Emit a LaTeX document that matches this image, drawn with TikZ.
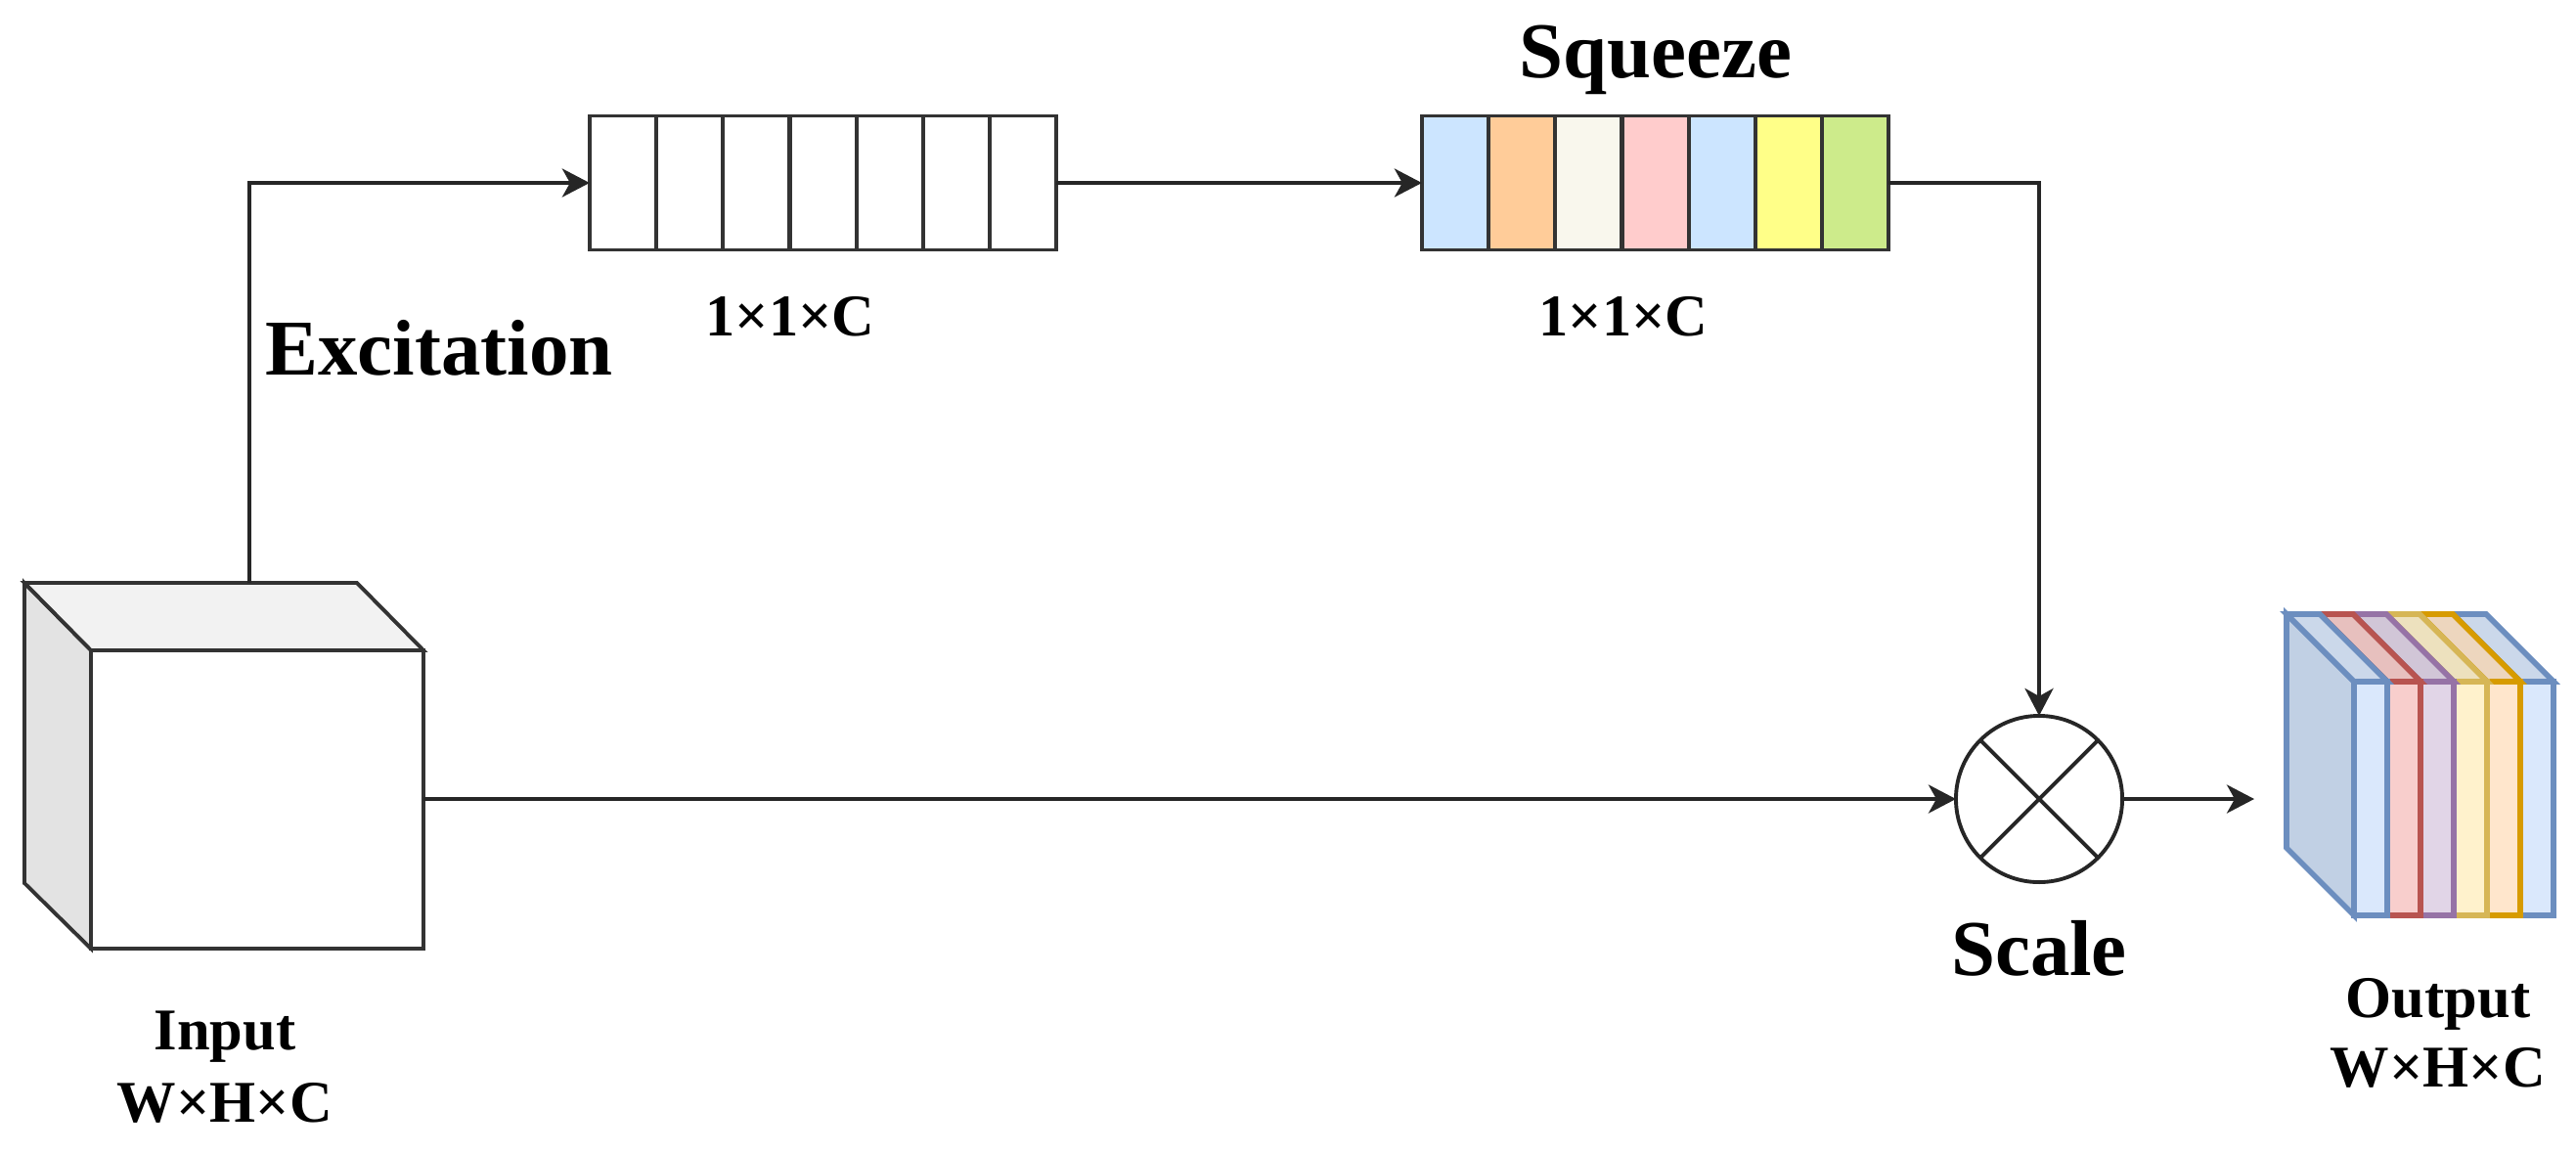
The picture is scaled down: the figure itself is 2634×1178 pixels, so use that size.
\documentclass[tikz,border=0pt]{standalone}
\usepackage{fontspec}
\setmainfont{Liberation Serif}
\usetikzlibrary{positioning,arrows.meta}
\definecolor{linegray}{HTML}{333333}
\definecolor{cellblue}{HTML}{CCE5FF}
\definecolor{cellorange}{HTML}{FFCC99}
\definecolor{cellcream}{HTML}{F9F7ED}
\definecolor{cellpink}{HTML}{FFCCCC}
\definecolor{cellyellow}{HTML}{FFFF88}
\definecolor{cellgreen}{HTML}{CDEB8B}
\definecolor{sliceblue}{HTML}{6C8EBF}
\definecolor{slicered}{HTML}{B85450}
\definecolor{slicepurple}{HTML}{9673A6}
\definecolor{sliceyellow}{HTML}{D6B656}
\definecolor{sliceorange}{HTML}{D79B00}
\definecolor{fillblue}{HTML}{DAE8FC}
\definecolor{fillred}{HTML}{F8CECC}
\definecolor{fillpurple}{HTML}{E1D5E7}
\definecolor{fillyellow}{HTML}{FFF2CC}
\definecolor{fillorange}{HTML}{FFE6CC}
\tikzset{
  cell/.style={draw=linegray,line width=1.1pt,minimum width=0.682cm,minimum height=1.37cm,inner sep=0pt,outer sep=0pt},
  link/.style={draw=black!85,line width=1.1pt,-{Stealth[length=0.28cm,width=0.29cm,inset=0.08cm]}},
  bigtext/.style={font=\bfseries\fontsize{23}{27}\selectfont,anchor=base},
  smalltext/.style={font=\bfseries\fontsize{17.2}{20}\selectfont,anchor=base},
  slicefront/.style={line width=1.6pt,minimum width=0.34cm,minimum height=2.39cm,inner sep=0pt,outer sep=0pt},
  slicetop/.style={line width=1.6pt,line join=miter}
}
\begin{document}
\begin{tikzpicture}[x=0.01cm,y=-0.01cm]
\useasboundingbox (0,0) rectangle (2634,1178);
% input cube
\draw[draw=linegray,line width=1.1pt,fill=black!11] (25,596) -- (93,665) -- (93,970) -- (25,903) -- cycle;
\draw[draw=linegray,line width=1.1pt,fill=black!5] (25,596) -- (365,596) -- (433,665) -- (93,665) -- cycle;
\node[draw=linegray,line width=1.1pt,fill=white,minimum width=3.4cm,minimum height=3.05cm,inner sep=0pt,outer sep=0pt] (input) at (263,817.5) {};
\coordinate (inputtop) at (255,596);
% first row of cells
\node[cell] (ex1) at (637,187) {};
\node[cell] (ex2) at (705,187) {};
\node[cell] (ex3) at (773,187) {};
\node[cell] (ex4) at (842,187) {};
\node[cell] (ex5) at (910,187) {};
\node[cell] (ex6) at (978,187) {};
\node[cell] (ex7) at (1046,187) {};
% second row of cells
\node[cell,fill=cellblue] (sq1) at (1488,187) {};
\node[cell,fill=cellorange] (sq2) at (1556,187) {};
\node[cell,fill=cellcream] (sq3) at (1624,187) {};
\node[cell,fill=cellpink] (sq4) at (1693,187) {};
\node[cell,fill=cellblue] (sq5) at (1761,187) {};
\node[cell,fill=cellyellow] (sq6) at (1829,187) {};
\node[cell,fill=cellgreen] (sq7) at (1897,187) {};
% scale
\node[circle,draw=black!85,line width=1.1pt,minimum size=1.7cm,inner sep=0pt,outer sep=0pt] (scale) at (2085,817) {};
\draw[draw=black!85,line width=1.1pt] (scale.45) -- (scale.225);
\draw[draw=black!85,line width=1.1pt] (scale.135) -- (scale.315);
\coordinate (outputend) at (2305,817);
% output slices
\draw[slicetop,draw=sliceblue,fill=sliceblue!42!white] (2338,628) -- (2407,697) -- (2407,936) -- (2338,867) -- cycle;
\draw[slicetop,draw=sliceblue,fill=fillblue!93!black] (2508,628) -- (2542,628) -- (2611,697) -- (2577,697) -- cycle;
\node[slicefront,draw=sliceblue,fill=fillblue] (out6) at (2594,816.5) {};
\draw[slicetop,draw=sliceorange,fill=fillorange!93!black] (2474,628) -- (2508,628) -- (2577,697) -- (2543,697) -- cycle;
\node[slicefront,draw=sliceorange,fill=fillorange] (out5) at (2560,816.5) {};
\draw[slicetop,draw=sliceyellow,fill=fillyellow!93!black] (2440,628) -- (2474,628) -- (2543,697) -- (2509,697) -- cycle;
\node[slicefront,draw=sliceyellow,fill=fillyellow] (out4) at (2526,816.5) {};
\draw[slicetop,draw=slicepurple,fill=fillpurple!93!black] (2406,628) -- (2440,628) -- (2509,697) -- (2475,697) -- cycle;
\node[slicefront,draw=slicepurple,fill=fillpurple] (out3) at (2492,816.5) {};
\draw[slicetop,draw=slicered,fill=fillred!93!black] (2372,628) -- (2406,628) -- (2475,697) -- (2441,697) -- cycle;
\node[slicefront,draw=slicered,fill=fillred] (out2) at (2458,816.5) {};
\draw[slicetop,draw=sliceblue,fill=fillblue!93!black] (2338,628) -- (2372,628) -- (2441,697) -- (2407,697) -- cycle;
\node[slicefront,draw=sliceblue,fill=fillblue] (out1) at (2424,816.5) {};
% connectors
\draw[link] (inputtop) |- (ex1.west);
\draw[link] (ex7.east) -- (sq1.west);
\draw[link] (sq7.east) -| (scale.north);
\draw[link] (input.east |- scale.west) -- (scale.west);
\draw[link] (scale.east) -- (outputend);
% labels
\node[bigtext] (squeezelabel) at (1693,79) {Squeeze};
\node[bigtext] (excitationlabel) at (449,383) {Excitation};
\node[bigtext] (scalelabel) at (2085,997) {Scale};
\node[smalltext] (exsize) at (808,343) {1×1×C};
\node[smalltext] (sqsize) at (1660,343) {1×1×C};
\node[smalltext] (inputlabel) at (230,1073) {Input};
\node[smalltext] (inputsize) at (230,1147) {W×H×C};
\node[smalltext] (outputlabel) at (2493,1040) {Output};
\node[smalltext] (outputsize) at (2493,1111) {W×H×C};
\end{tikzpicture}
\end{document}
